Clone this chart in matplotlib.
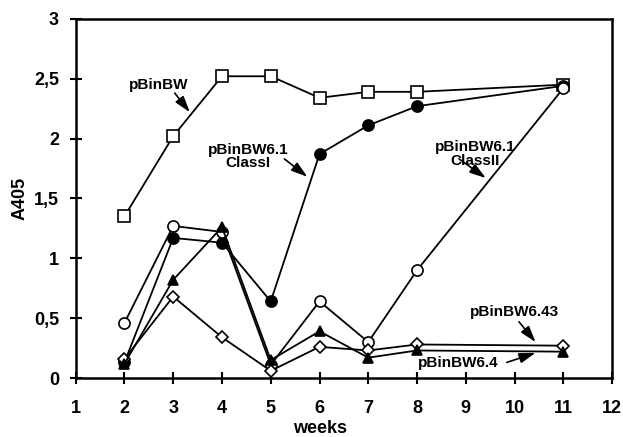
import matplotlib
matplotlib.use("Agg")
import matplotlib.pyplot as plt

plt.rcParams['font.family'] = ['Liberation Sans', 'DejaVu Sans']
plt.rcParams['font.weight'] = 'bold'

weeks = [2, 3, 4, 5, 6, 7, 8, 11]
pbinbw = [1.35, 2.02, 2.52, 2.52, 2.34, 2.39, 2.39, 2.45]
class1 = [0.13, 1.17, 1.13, 0.64, 1.87, 2.11, 2.27, 2.44]
class2 = [0.46, 1.27, 1.22, 0.11, 0.64, 0.30, 0.90, 2.42]
bw64 = [0.12, 0.82, 1.26, 0.15, 0.39, 0.17, 0.23, 0.22]
bw643 = [0.16, 0.68, 0.34, 0.06, 0.26, 0.23, 0.28, 0.27]

fig = plt.figure(figsize=(6.23, 4.37), dpi=100)
ax = fig.add_axes([0.1215, 0.135, 0.861, 0.822])

# square series first so the circles sit on top at week 11
kw = dict(color='black', linewidth=1.3, markeredgewidth=1.2)
ax.plot(weeks, pbinbw, marker='s', markerfacecolor='white', markersize=8, **kw)
ax.plot(weeks, class1, marker='o', markerfacecolor='black', markersize=8, **kw)
ax.plot(weeks, class2, marker='o', markerfacecolor='white', markersize=8, **kw)
ax.plot(weeks, bw643, marker='D', markerfacecolor='white', markersize=6, **kw)
ax.plot(weeks, bw64, marker='^', markerfacecolor='black', markersize=7.5, **kw)

ax.set_xlim(1, 12)
ax.set_ylim(0, 3)
ax.set_xticks(range(1, 13))
ax.set_yticks([0, 0.5, 1, 1.5, 2, 2.5, 3])
ax.set_yticklabels(['0', '0,5', '1', '1,5', '2', '2,5', '3'])
ax.tick_params(direction='inout', length=8, width=1.5, labelsize=13)
ax.tick_params(axis='x', pad=12)
ax.tick_params(axis='y', pad=8)
for lbl in ax.get_xticklabels() + ax.get_yticklabels():
    lbl.set_fontweight('bold')
for s in ax.spines.values():
    s.set_linewidth(1.8)

ax.set_ylabel('A405', fontsize=13, fontweight='bold', labelpad=4)
ax.set_xlabel('weeks', fontsize=13, fontweight='bold', va='top')
ax.xaxis.set_label_coords(0.455, -0.118)

arrow = dict(arrowstyle='-|>,head_length=0.7,head_width=0.22', color='black',
             lw=1.2, mutation_scale=14, shrinkA=0, shrinkB=0)
tk = dict(fontsize=11, fontweight='bold', ha='center', va='center', linespacing=0.95)
ax.annotate('', xy=(3.34, 2.22), xytext=(3.03, 2.38), arrowprops=arrow)
ax.text(2.70, 2.45, 'pBinBW', **tk)
ax.annotate('', xy=(5.75, 1.68), xytext=(5.28, 1.83), arrowprops=arrow)
ax.text(4.53, 1.85, 'pBinBW6.1\nClassI', **tk)
ax.annotate('', xy=(9.41, 1.67), xytext=(8.86, 1.83), arrowprops=arrow)
ax.text(9.19, 1.87, 'pBinBW6.1\nClassII', **tk)
ax.annotate('', xy=(10.43, 0.30), xytext=(10.09, 0.47), arrowprops=arrow)
ax.text(10.0, 0.55, 'pBinBW6.43', **tk)
ax.annotate('', xy=(10.43, 0.21), xytext=(9.84, 0.13), arrowprops=arrow)
ax.text(8.84, 0.125, 'pBinBW6.4', **tk)

fig.savefig('out.png', dpi=100)
